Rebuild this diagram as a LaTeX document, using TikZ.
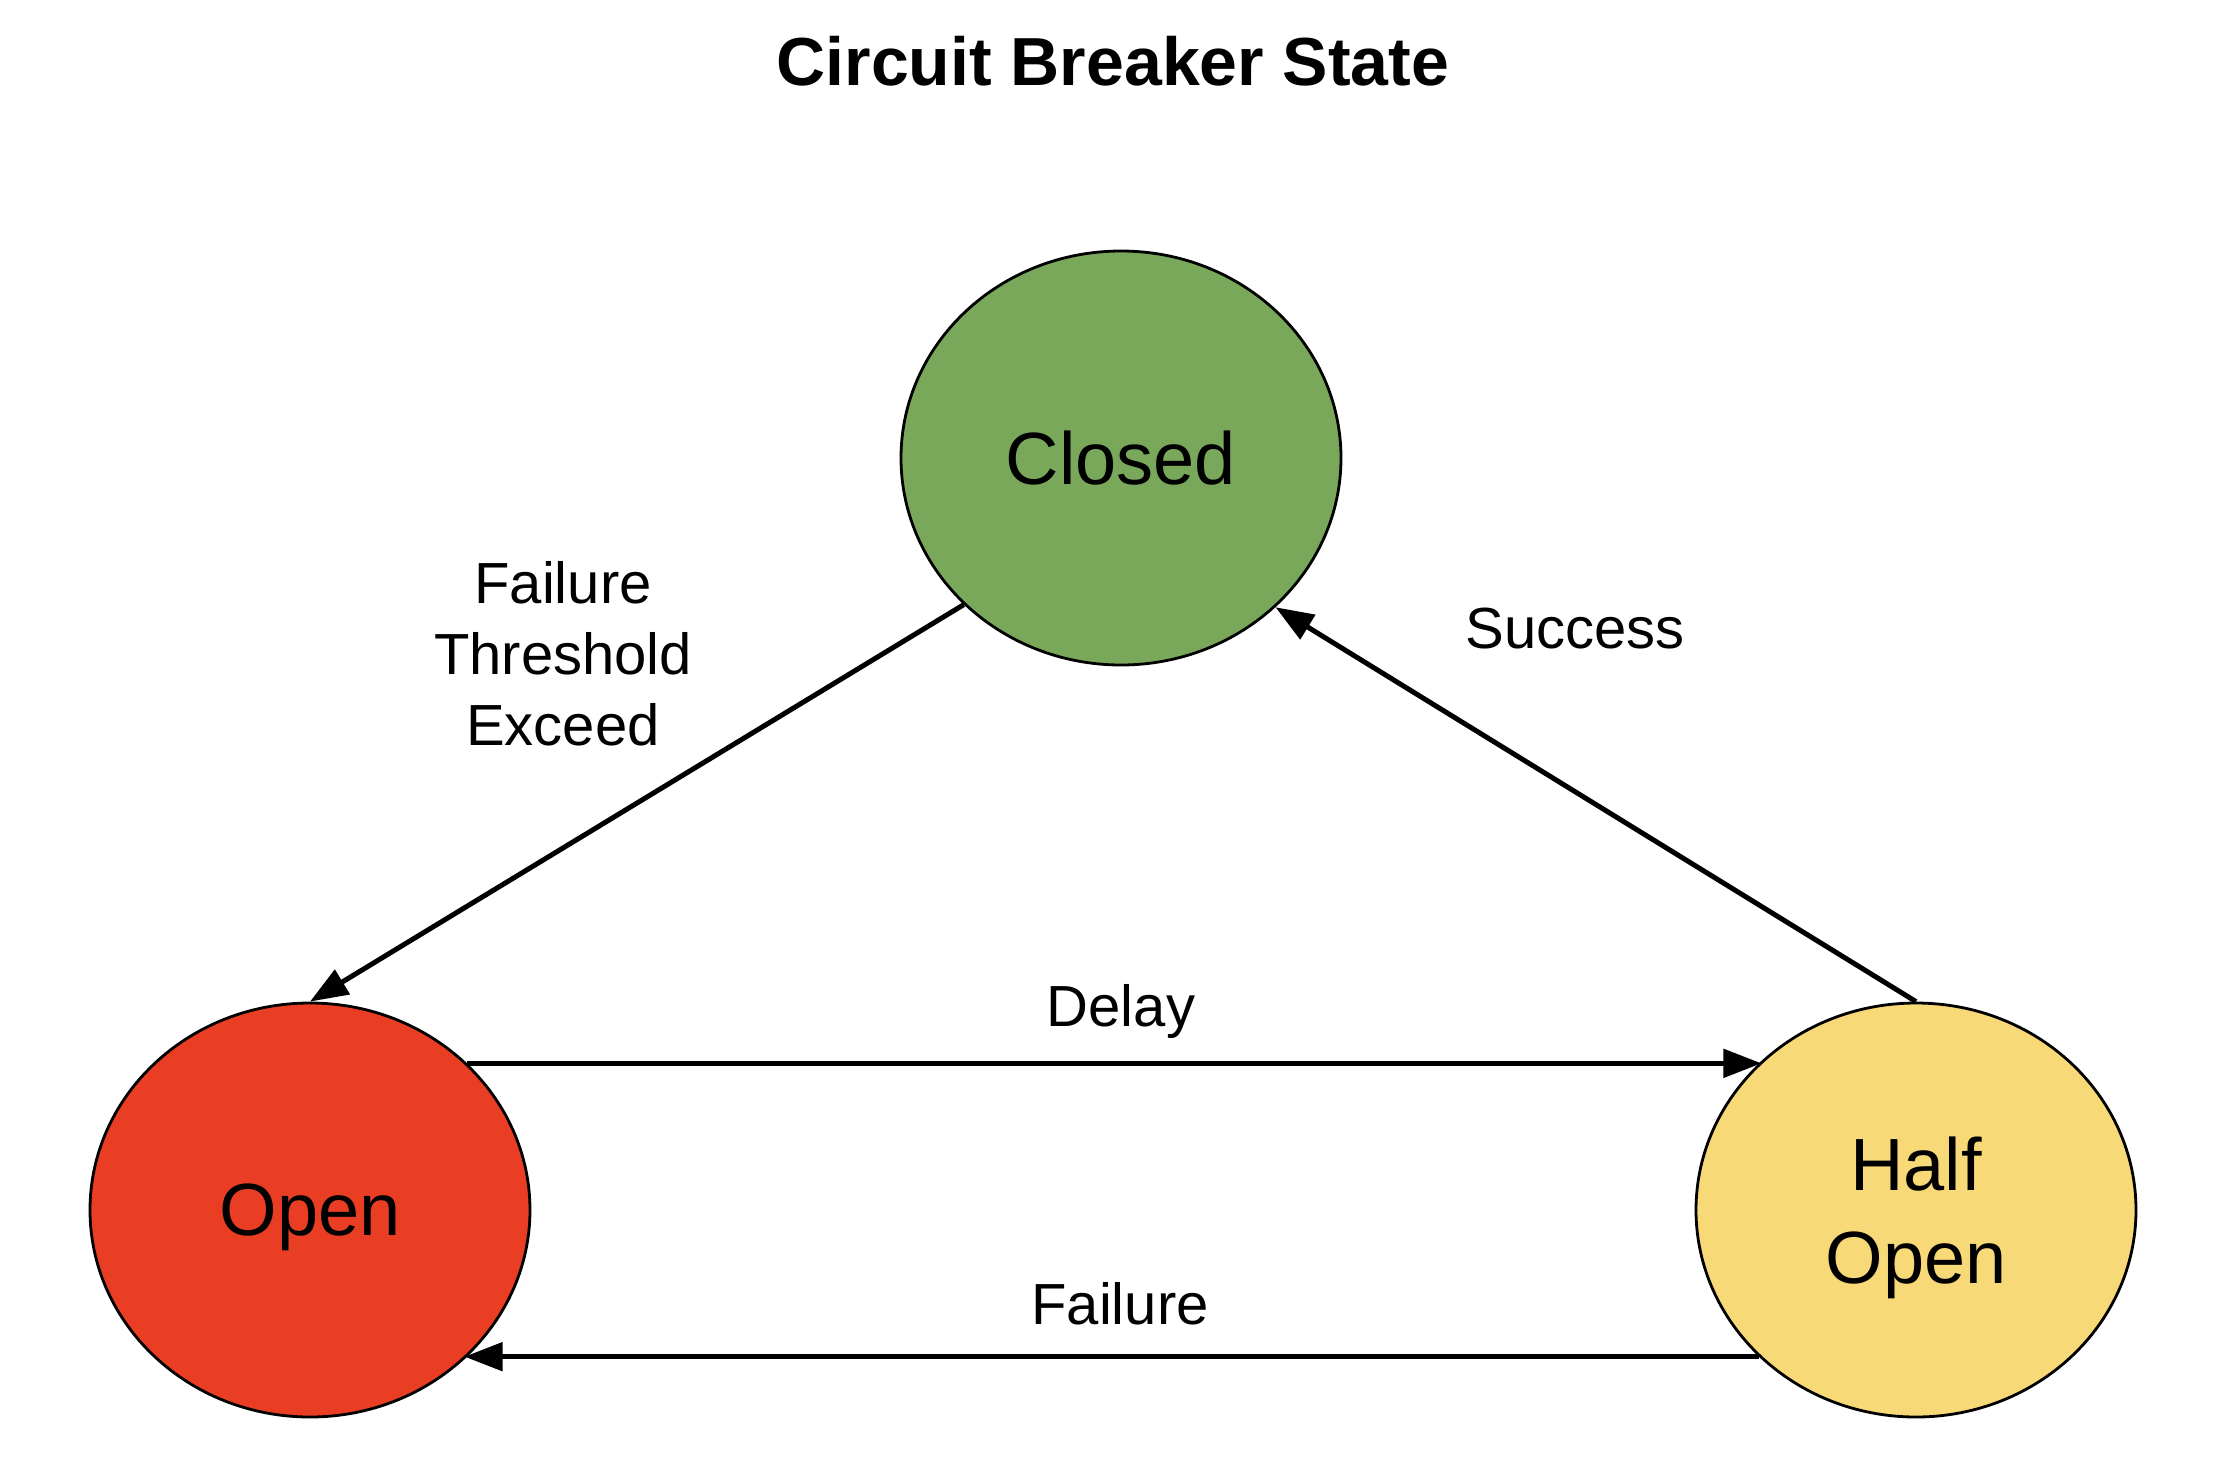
\documentclass[tikz,border=0pt]{standalone}
\usepackage{fontspec}
\setmainfont{Liberation Sans}
\usetikzlibrary{shapes.geometric,arrows.meta}
\definecolor{closedgreen}{HTML}{7AA85B}
\definecolor{openred}{HTML}{E93E24}
\definecolor{halfyellow}{HTML}{F8D978}
\begin{document}
\begin{tikzpicture}[x=0.5pt,y=-0.5pt,
  state/.style={ellipse,draw=black,line width=1.4pt,minimum width=220pt,minimum height=207pt,inner sep=0pt,
    font=\fontsize{37}{46.5}\selectfont,align=center,text depth=0pt},
  lbl/.style={inner sep=0pt,font=\fontsize{29}{35.5}\selectfont,align=center},
  conn/.style={line width=2.5pt,-{Triangle[length=19pt,width=14pt]}}]
\useasboundingbox (0,0) rectangle (2216,1462);
\node[inner sep=0pt,anchor=base,font=\fontsize{34}{40}\selectfont\bfseries] (title) at (1113,85) {Circuit Breaker State};
\node[state,fill=closedgreen] (closed) at (1121,458) {Closed};
\node[state,fill=openred] (open) at (310,1210) {Open};
\node[state,fill=halfyellow] (half) at (1916,1210) {Half\\Open};
\draw[conn] (closed.223.1) -- (open.north);
\draw[conn] (half.north) -- (closed.316.1);
\draw[conn] (open.43.5) -- (open.43.5 -| half.136.5);
\draw[conn] (half.223.5) -- (half.223.5 -| open.316.5);
\node[lbl,text depth=0pt] (lthr) at (563,653.5) {Failure\\Threshold\\Exceed};
\node[lbl,anchor=base] (lsucc) at (1575,648) {Success};
\node[lbl,anchor=base] (ldelay) at (1121,1026) {Delay};
\node[lbl,anchor=base] (lfail) at (1120,1324) {Failure};
\end{tikzpicture}
\end{document}
